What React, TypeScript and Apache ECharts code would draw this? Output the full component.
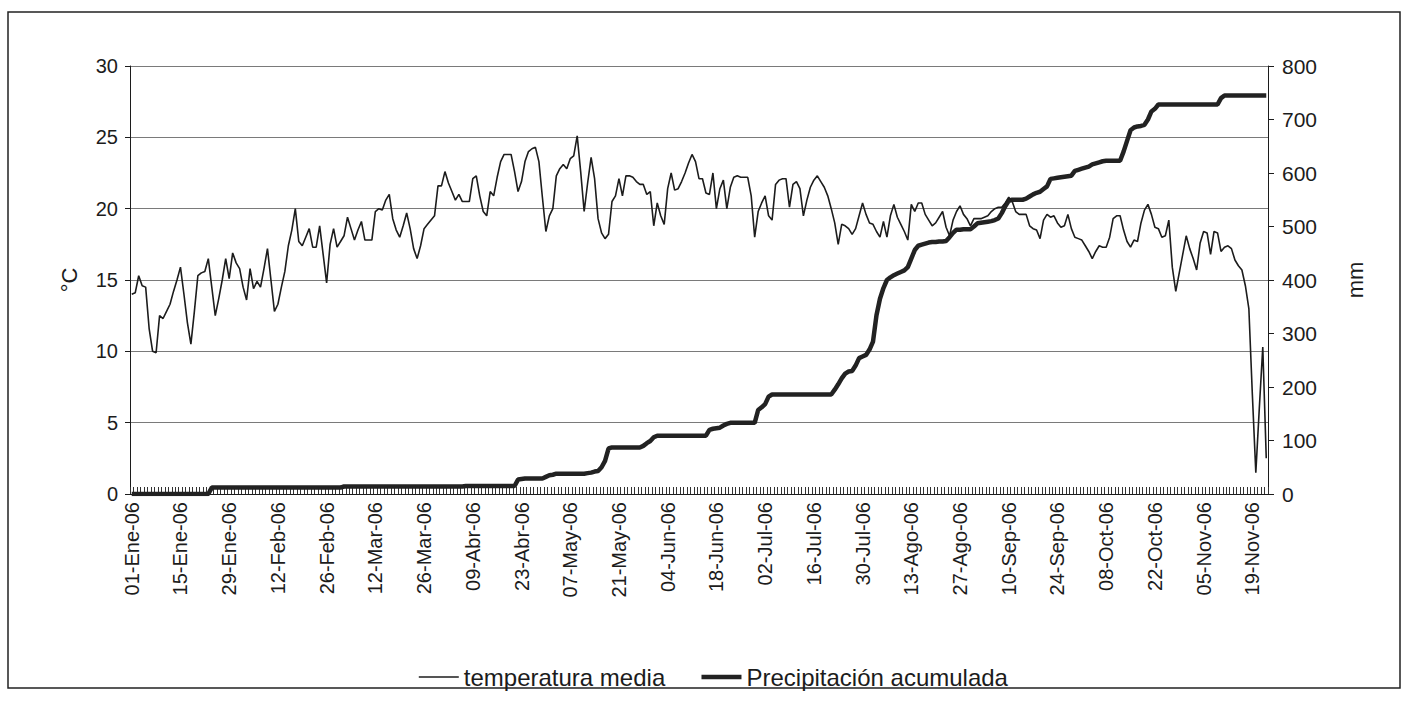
import React, { useEffect, useRef } from "react";
import * as echarts from "echarts";

// Spanish month abbreviations and month lengths for 2006
const MONTHS = ["Ene", "Feb", "Mar", "Abr", "May", "Jun", "Jul", "Ago", "Sep", "Oct", "Nov", "Dic"];
const MONTH_DAYS = [31, 28, 31, 30, 31, 30, 31, 31, 30, 31, 30, 31];
const YEAR_SUFFIX = "06";

// Daily mean temperature (°C), 01-Ene-06 onwards
const TEMP_MEDIA = [
  14.0, 14.1, 15.3, 14.6, 14.5, 11.6, 10.0, 9.9, 12.5, 12.3,
  12.8, 13.3, 14.2, 15.0, 15.9, 14.0, 12.0, 10.5, 12.8, 15.3,
  15.5, 15.6, 16.5, 14.5, 12.5, 13.7, 15.0, 16.5, 15.1, 16.9,
  16.2, 15.8, 14.5, 13.6, 15.8, 14.4, 14.9, 14.5, 15.8, 17.2,
  15.0, 12.8, 13.3, 14.5, 15.6, 17.4, 18.5, 20.0, 17.7, 17.4,
  18.0, 18.6, 17.3, 17.3, 18.8, 16.8, 14.8, 17.5, 18.6, 17.3,
  17.7, 18.1, 19.4, 18.6, 17.8, 18.5, 19.1, 17.8, 17.8, 17.8,
  19.8, 20.0, 19.9, 20.6, 21.0, 19.3, 18.5, 18.0, 18.8, 19.7,
  18.6, 17.2, 16.5, 17.4, 18.6, 18.9, 19.2, 19.5, 21.6, 21.6,
  22.6, 21.8, 21.2, 20.6, 21.0, 20.5, 20.5, 20.5, 22.1, 22.3,
  20.9, 19.8, 19.5, 21.2, 20.9, 22.2, 23.3, 23.8, 23.8, 23.8,
  22.6, 21.2, 21.9, 23.3, 24.0, 24.2, 24.3, 23.3, 20.8, 18.4,
  19.5, 20.0, 22.3, 22.8, 23.1, 22.8, 23.5, 23.7, 25.1, 22.6,
  19.8, 21.8, 23.6, 22.1, 19.3, 18.3, 17.9, 18.2, 20.5, 20.9,
  22.1, 20.9, 22.3, 22.3, 22.2, 21.9, 21.7, 21.7, 21.0, 21.2,
  18.8, 20.4, 19.5, 18.9, 21.4, 22.5, 21.3, 21.4, 21.9, 22.5,
  23.2, 23.8, 23.3, 22.1, 22.1, 21.1, 21.0, 22.5, 20.0, 21.4,
  22.0, 20.0, 21.5, 22.2, 22.3, 22.2, 22.2, 22.2, 20.9, 18.0,
  19.8, 20.4, 20.9, 19.5, 19.2, 21.7, 22.0, 22.1, 22.1, 20.1,
  21.7, 21.9, 21.4, 19.5, 20.6, 21.5, 22.0, 22.3, 21.9, 21.5,
  20.9, 20.0, 19.0, 17.5, 18.9, 18.8, 18.6, 18.2, 18.6, 19.5,
  20.4, 19.6, 19.0, 18.9, 18.4, 18.0, 19.1, 18.0, 19.5, 20.3,
  19.4, 18.9, 18.4, 17.8, 20.3, 19.8, 20.4, 20.4, 19.6, 19.2,
  18.8, 19.0, 19.4, 19.8, 18.7, 18.1, 19.2, 19.8, 20.2, 19.6,
  19.3, 18.8, 19.3, 19.3, 19.3, 19.4, 19.5, 19.8, 20.0, 20.1,
  20.1, 20.4, 20.8, 20.5, 19.8, 19.6, 19.6, 19.6, 18.8, 18.6,
  18.5, 17.9, 19.2, 19.6, 19.4, 19.5, 19.0, 18.7, 18.8, 19.6,
  18.6, 18.0, 17.9, 17.8, 17.4, 17.0, 16.5, 17.0, 17.4, 17.3,
  17.3, 18.0, 19.3, 19.5, 19.5, 18.5, 17.7, 17.3, 17.8, 17.7,
  19.0, 19.9, 20.3, 19.6, 18.7, 18.6, 18.0, 18.1, 19.2, 15.9,
  14.2, 15.5, 16.8, 18.1, 17.2, 16.5, 15.7, 17.6, 18.4, 18.3,
  16.8, 18.4, 18.3, 17.0, 17.3, 17.4, 17.2, 16.4, 16.0, 15.7,
  14.6, 13.0, 7.0, 1.5, 6.0, 10.3, 2.5,
];

// Accumulated precipitation (mm), same days
const PRECIP_ACUM = [
  0, 0, 0, 0, 0, 0, 0, 0, 0, 0,
  0, 0, 0, 0, 0, 0, 0, 0, 0, 0,
  0, 0, 0, 12, 12, 12, 12, 12, 12, 12,
  12, 12, 12, 12, 12, 12, 12, 12, 12, 12,
  12, 12, 12, 12, 12, 12, 12, 12, 12, 12,
  12, 12, 12, 12, 12, 12, 12, 12, 12, 12,
  12, 14, 14, 14, 14, 14, 14, 14, 14, 14,
  14, 14, 14, 14, 14, 14, 14, 14, 14, 14,
  14, 14, 14, 14, 14, 14, 14, 14, 14, 14,
  14, 14, 14, 14, 14, 14, 15, 15, 15, 15,
  15, 15, 15, 15, 15, 15, 15, 15, 15, 15,
  15, 27, 28, 29, 29, 29, 29, 29, 29, 32,
  35, 36, 38, 38, 38, 38, 38, 38, 38, 38,
  38, 39, 40, 42, 43, 50, 62, 85, 87, 87,
  87, 87, 87, 87, 87, 87, 87, 90, 95, 99,
  106, 109, 109, 109, 109, 109, 109, 109, 109, 109,
  109, 109, 109, 109, 109, 109, 120, 122, 123, 124,
  128, 131, 133, 133, 133, 133, 133, 133, 133, 133,
  157, 162, 168, 182, 186, 186, 186, 186, 186, 186,
  186, 186, 186, 186, 186, 186, 186, 186, 186, 186,
  186, 186, 195, 205, 216, 225, 229, 230, 240, 254,
  257, 260, 270, 285, 334, 365, 385, 400, 405, 409,
  412, 415, 418, 424, 440, 456, 464, 466, 468, 470,
  471, 471, 472, 472, 473, 480, 488, 494, 494, 495,
  495, 495, 500, 506, 507, 508, 509, 510, 512, 515,
  525, 538, 548, 550, 550, 550, 550, 552, 556, 560,
  563, 565, 570, 575, 589, 590, 591, 592, 593, 594,
  595, 604, 606, 608, 610, 612, 616, 618, 620, 622,
  623, 623, 623, 623, 623, 640, 660, 680, 685, 687,
  688, 690, 700, 715, 720, 728, 728, 728, 728, 728,
  728, 728, 728, 728, 728, 728, 728, 728, 728, 728,
  728, 728, 728, 740, 745, 745, 745, 745, 745, 745,
  745, 745, 745, 745, 745, 745, 745,
];

const SERIES_NAMES = ["temperatura media", "Precipitación acumulada"];

// Category labels like "01-Ene-06", one per day of data
function buildDays(count: number): string[] {
  const out: string[] = [];
  let m = 0;
  let d = 1;
  while (out.length < count) {
    out.push(String(d).padStart(2, "0") + "-" + MONTHS[m] + "-" + YEAR_SUFFIX);
    d += 1;
    if (d > MONTH_DAYS[m]) {
      d = 1;
      m += 1;
    }
  }
  return out;
}

const FONT = 'Arial, "Liberation Sans", sans-serif';
const INK = "#1c1c1c";
const TEMP_WIDTH = 1.6;
const PRECIP_WIDTH = 4.5;

export default function App() {
  const ref = useRef<HTMLDivElement>(null);

  useEffect(() => {
    if (!ref.current) return;
    const chart = echarts.init(ref.current, undefined, { renderer: "svg" });
    const days = buildDays(TEMP_MEDIA.length);

    chart.setOption({
      animation: false,
      backgroundColor: "#ffffff",
      textStyle: { fontFamily: FONT, color: INK },
      grid: { left: 130, right: 144, top: 66, bottom: 215, containLabel: false },
      xAxis: {
        type: "category",
        data: days,
        boundaryGap: true,
        axisLine: { show: true, lineStyle: { color: INK, width: 1 } },
        axisTick: { show: true, interval: 0, inside: true, length: 7, lineStyle: { color: "#333", width: 1 } },
        axisLabel: { interval: 13, rotate: 90, fontSize: 20, color: INK, margin: 8, fontFamily: FONT },
        splitLine: { show: false },
      },
      yAxis: [
        {
          type: "value",
          min: 0,
          max: 30,
          interval: 5,
          name: "°C",
          nameLocation: "middle",
          nameGap: 50,
          nameTextStyle: { fontSize: 22, color: INK, fontFamily: FONT },
          axisLine: { show: true, lineStyle: { color: INK, width: 1 } },
          axisTick: { show: true, length: 5, lineStyle: { color: INK } },
          axisLabel: { fontSize: 20, color: INK, margin: 12, fontFamily: FONT },
          splitLine: { show: true, lineStyle: { color: "#7a7a7a", width: 1.2 } },
        },
        {
          type: "value",
          min: 0,
          max: 800,
          interval: 100,
          position: "right",
          name: "mm",
          nameLocation: "middle",
          nameRotate: 90,
          nameGap: 76,
          nameTextStyle: { fontSize: 22, color: INK, fontFamily: FONT },
          axisLine: { show: true, lineStyle: { color: INK, width: 1 } },
          axisTick: { show: true, length: 6, lineStyle: { color: INK } },
          axisLabel: { fontSize: 21, color: INK, margin: 14, fontFamily: FONT },
          splitLine: { show: false },
        },
      ],
      legend: {
        left: 413,
        top: 660,
        itemWidth: 40,
        itemHeight: 10,
        itemGap: 34,
        itemStyle: { opacity: 0 },
        textStyle: { fontSize: 24, color: INK, fontFamily: FONT },
        data: [
          { name: SERIES_NAMES[0], lineStyle: { width: TEMP_WIDTH, color: INK } },
          { name: SERIES_NAMES[1], lineStyle: { width: PRECIP_WIDTH, color: "#222" } },
        ],
      },
      series: [
        {
          name: SERIES_NAMES[0],
          type: "line",
          yAxisIndex: 0,
          data: TEMP_MEDIA,
          symbol: "none",
          z: 3,
          lineStyle: { color: INK, width: TEMP_WIDTH },
          itemStyle: { color: INK },
        },
        {
          name: SERIES_NAMES[1],
          type: "line",
          yAxisIndex: 1,
          data: PRECIP_ACUM,
          symbol: "none",
          z: 2,
          lineStyle: { color: "#222", width: PRECIP_WIDTH },
          itemStyle: { color: "#222" },
        },
      ],
      graphic: [
        {
          type: "rect",
          shape: { x: 8, y: 12, width: 1392, height: 676 },
          style: { fill: "none", stroke: "#222", lineWidth: 1.5 },
          silent: true,
          z: -1,
        },
      ],
    });

    return () => chart.dispose();
  }, []);

  return <div ref={ref} style={{ position: "absolute", left: 0, top: 0, width: 1412, height: 709 }} />;
}
